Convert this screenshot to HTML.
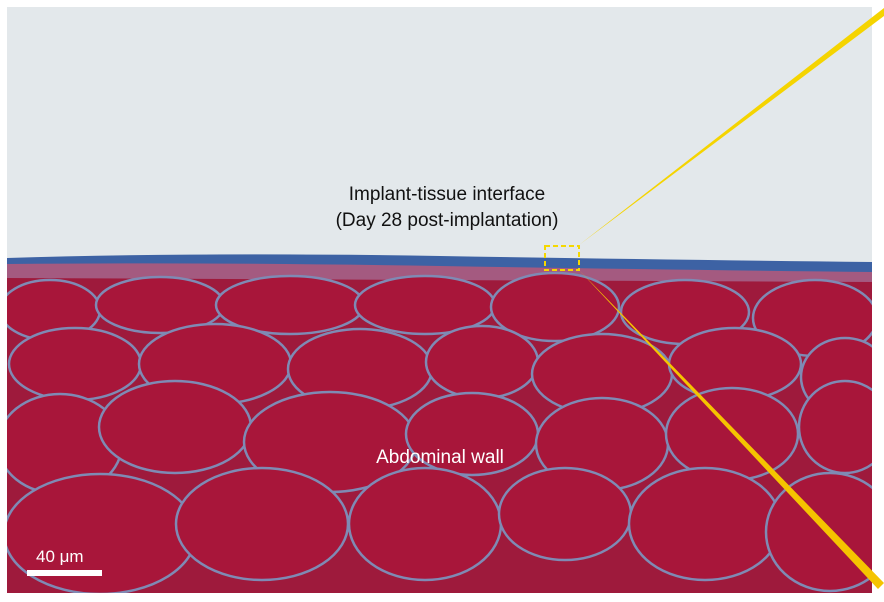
<!DOCTYPE html>
<html><head><style>
html,body{margin:0;padding:0;background:#fff;}
svg{display:block;}
text{font-family:"Liberation Sans",sans-serif;}
</style></head><body>
<svg width="884" height="602" viewBox="0 0 884 602">
<defs><clipPath id="c"><rect x="7" y="7" width="865" height="586"/></clipPath></defs>
<rect width="884" height="602" fill="#fff"/>
<g clip-path="url(#c)">
<rect x="7" y="7" width="865" height="586" fill="#e3e8eb"/>
<path d="M7,258 Q200,252 440,256 T872,262 L872,593 L7,593Z" fill="#3d62a4"/>
<path d="M7,264 Q200,262 440,266 T872,272 L872,593 L7,593Z" fill="#a45a80"/>
<path d="M7,278 L872,282 L872,593 L7,593Z" fill="#9e1a3c"/>
<g fill="#a8163a" stroke="#7f8ab4" stroke-width="2.5">
<ellipse cx="50" cy="310" rx="50" ry="30"/>
<ellipse cx="160" cy="305" rx="64" ry="28"/>
<ellipse cx="290" cy="305" rx="74" ry="29"/>
<ellipse cx="425" cy="305" rx="70" ry="29"/>
<ellipse cx="555" cy="307" rx="64" ry="34"/>
<ellipse cx="685" cy="312" rx="64" ry="32"/>
<ellipse cx="815" cy="318" rx="62" ry="38"/>
<ellipse cx="75" cy="364" rx="66" ry="36"/>
<ellipse cx="215" cy="364" rx="76" ry="40"/>
<ellipse cx="360" cy="369" rx="72" ry="40"/>
<ellipse cx="482" cy="362" rx="56" ry="36"/>
<ellipse cx="602" cy="374" rx="70" ry="40"/>
<ellipse cx="735" cy="364" rx="66" ry="36"/>
<ellipse cx="845" cy="377" rx="44" ry="39"/>
<ellipse cx="60" cy="444" rx="62" ry="50"/>
<ellipse cx="175" cy="427" rx="76" ry="46"/>
<ellipse cx="330" cy="442" rx="86" ry="50"/>
<ellipse cx="472" cy="434" rx="66" ry="41"/>
<ellipse cx="602" cy="444" rx="66" ry="46"/>
<ellipse cx="732" cy="434" rx="66" ry="46"/>
<ellipse cx="845" cy="427" rx="46" ry="46"/>
<ellipse cx="100" cy="534" rx="96" ry="60"/>
<ellipse cx="262" cy="524" rx="86" ry="56"/>
<ellipse cx="425" cy="524" rx="76" ry="56"/>
<ellipse cx="565" cy="514" rx="66" ry="46"/>
<ellipse cx="705" cy="524" rx="76" ry="56"/>
<ellipse cx="830" cy="532" rx="64" ry="59"/>
</g>
</g>
<rect x="545" y="246" width="34" height="24" fill="none" stroke="#f5d800" stroke-width="2" stroke-dasharray="5,3"/>
<polygon points="579,245 884,8 884,16" fill="#f5d400"/>
<polygon points="579,270 884,583 878,589" fill="#f5c400"/>
<text x="447" y="200" font-size="19" fill="#111" text-anchor="middle">Implant-tissue interface</text>
<text x="447" y="226" font-size="19" fill="#111" text-anchor="middle">(Day 28 post-implantation)</text>
<text x="440" y="463" font-size="19" fill="#fff" text-anchor="middle">Abdominal wall</text>
<text x="36" y="562" font-size="17" fill="#fff">40 μm</text>
<rect x="27" y="570" width="75" height="6" fill="#fff"/>
</svg>
</body></html>
